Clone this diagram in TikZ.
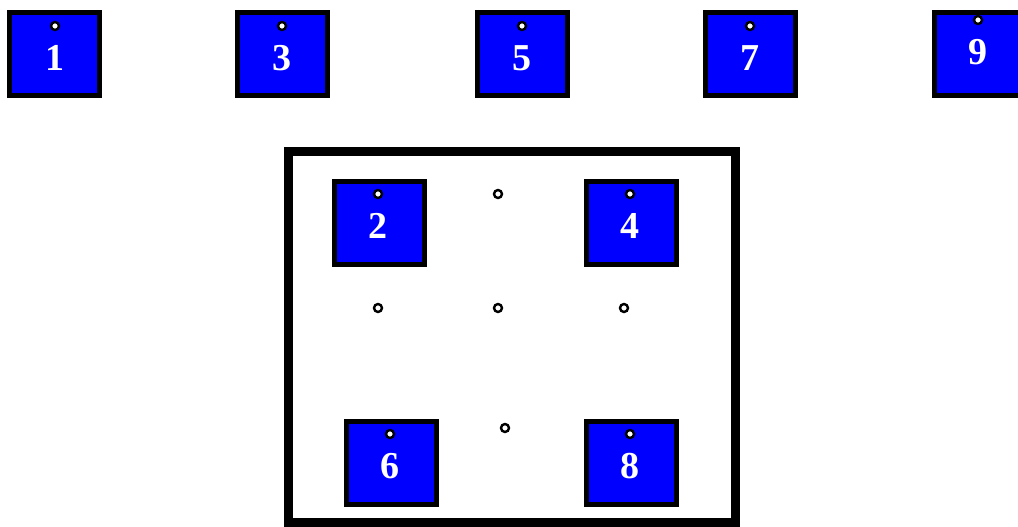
\documentclass[tikz,border=0pt]{standalone}
\usepackage{fontspec}
\setmainfont{Liberation Serif}
\usetikzlibrary{positioning}

\begin{document}
\begin{tikzpicture}[
    x=1pt, y=-1pt,
    box/.style={rectangle, draw, line width=5pt, fill=blue, minimum width=90pt, minimum height=83pt, inner sep=0pt},
    hole/.style={circle, draw, fill=white, line width=2.4pt, minimum size=8pt, inner sep=0pt},
    num/.style={text=white, font=\fontsize{38}{40}\selectfont\bfseries, inner sep=0pt},
    frame/.style={draw, line width=9pt}
]
\clip (0,0) rectangle (1018,527);
\useasboundingbox (0,0) rectangle (1018,527);

% Top row of boxes
\node[box] (b1) at (54.5,54) {};
\node[box] (b3) at (282.5,54) {};
\node[box] (b5) at (522.5,54) {};
\node[box] (b7) at (750.5,54) {};
\node[box] (b9) at (979.5,54) {};

\node[hole] (h1) at (55,26) {};
\node[hole] (h3) at (282,26) {};
\node[hole] (h5) at (522,26) {};
\node[hole] (h7) at (750,26) {};
\node[hole] (h9) at (978,20) {};

\node[num] (n1) at (55,58) {1};
\node[num] (n3) at (282,58) {3};
\node[num] (n5) at (522,58) {5};
\node[num] (n7) at (750,58) {7};
\node[num] (n9) at (978,52) {9};

% Enclosure
\draw[frame] (288.5,151.5) rectangle (735.5,522.5);

% Boxes inside the enclosure
\node[box] (b2) at (379,222.5) {};
\node[box] (b4) at (631,222.5) {};
\node[box] (b6) at (391,462.5) {};
\node[box] (b8) at (631,462.5) {};

\node[hole] (h2) at (378,194) {};
\node[hole] (h4) at (630,194) {};
\node[hole] (h6) at (390,434) {};
\node[hole] (h8) at (630,434) {};

\node[num] (n2) at (378,226) {2};
\node[num] (n4) at (630,226) {4};
\node[num] (n6) at (390,466) {6};
\node[num] (n8) at (630,466) {8};

% Empty positions
\node[hole] (e1) at (498,194) {};
\node[hole] (e2) at (378,308) {};
\node[hole] (e3) at (498,308) {};
\node[hole] (e4) at (624,308) {};
\node[hole] (e5) at (505,428) {};

\end{tikzpicture}
\end{document}
